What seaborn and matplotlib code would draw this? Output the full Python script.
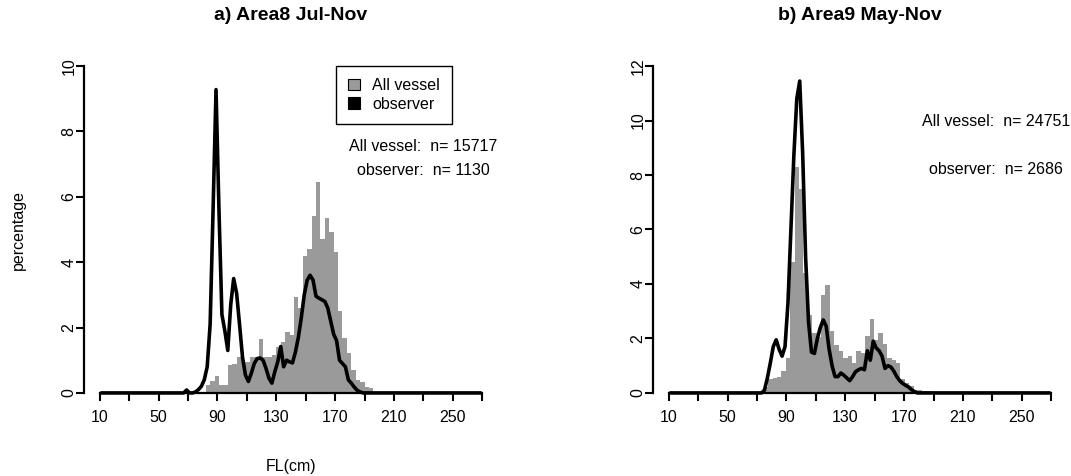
import numpy as np
import matplotlib
matplotlib.use("Agg")
import matplotlib.pyplot as plt
import seaborn as sns
from matplotlib.patches import Patch

sns.set_style("white")
plt.rcParams['font.family'] = ['Liberation Sans', 'DejaVu Sans']
plt.rcParams['text.color'] = 'black'
plt.rcParams['axes.labelcolor'] = 'black'

# ---------------- data ----------------
titles = ["a) Area8 Jul-Nov", "b) Area9 May-Nov"]
legend_labels = ["All vessel", "observer"]
n_text_a = ["All vessel:  n= 15717", "observer:  n= 1130"]
n_text_b = ["All vessel:  n= 24751", "observer:  n= 2686"]
x_ticks = list(range(10, 271, 20))
x_tick_labels = ["10", "", "50", "", "90", "", "130", "", "170", "", "210", "", "250", ""]

bin_width = 3
# All vessel percentages (3 cm bins) -- panel a, first bin edge 82 cm
hist_a_start = 82
hist_a_pct = [0.24, 0.35, 0.52, 0.25, 0.25, 0.84, 0.90, 1.10, 1.00, 0.96,
              1.10, 1.10, 1.64, 1.10, 1.10, 1.15, 1.40, 1.57, 1.87, 1.78,
              2.95, 2.60, 4.19, 4.40, 5.41, 6.45, 4.70, 5.34, 4.93, 4.30,
              2.50, 1.68, 1.22, 0.70, 0.40, 0.33, 0.18, 0.15]
# panel b, first bin edge 74.5 cm
hist_b_start = 74.5
hist_b_pct = [0.20, 0.50, 0.55, 0.60, 0.80, 1.30, 4.80, 8.30, 7.50, 4.40,
              2.87, 2.20, 2.05, 3.60, 3.97, 2.26, 1.77, 1.55, 1.28, 1.35,
              1.10, 1.55, 1.45, 2.10, 2.70, 1.95, 2.20, 1.80, 1.27, 1.20,
              1.10, 0.50, 0.37, 0.24, 0.12, 0.10, 0.07, 0.06, 0.05, 0.02,
              0.01, 0.01, 0.04]

# observer percentages at 2 cm bin mid-points (11 ... 269 cm)
obs_a_start = 61
obs_a_pct = [0, 0, 0, 0, 0.09, 0, 0, 0.03, 0.10, 0.20,
             0.40, 0.80, 2.10, 5.60, 9.28, 5.60, 2.40, 1.90, 1.30, 2.70,
             3.50, 3.05, 2.10, 1.10, 0.55, 0.35, 0.60, 0.90, 1.05, 1.07,
             1.00, 0.75, 0.45, 0.30, 0.65, 0.95, 1.42, 0.80, 1.00, 0.95,
             0.92, 1.25, 1.70, 2.30, 3.00, 3.45, 3.60, 3.45, 2.96, 2.90,
             2.85, 2.80, 2.60, 2.20, 1.80, 1.60, 1.00, 0.90, 0.80, 0.40,
             0.30, 0.18, 0.08, 0.03, 0]
obs_b_start = 71
obs_b_pct = [0, 0, 0.10, 0.55, 1.10, 1.70, 1.95, 1.60, 1.35, 1.70,
             3.30, 6.00, 8.70, 10.80, 11.45, 8.80, 5.00, 2.60, 1.50, 1.45,
             2.00, 2.40, 2.68, 2.45, 1.60, 1.00, 0.60, 0.60, 0.73, 0.65,
             0.55, 0.45, 0.60, 0.78, 0.85, 0.90, 0.85, 1.55, 1.20, 1.90,
             1.65, 1.55, 1.35, 0.90, 1.00, 0.95, 0.80, 0.60, 0.45, 0.35,
             0.28, 0.22, 0.12, 0.05, 0, 0]
y_max = [10, 12]

GREY = "#9a9a9a"
FS = 11.5

fig = plt.figure(figsize=(10.71, 4.76), dpi=100)
W, H = 1071, 476
ax_a = fig.add_axes([84 / W, 1 - 406 / H, 414 / W, 353 / H])
ax_b = fig.add_axes([653 / W, 1 - 406 / H, 414 / W, 353 / H])


def full_obs(start, pct):
    mids = np.arange(11, 270, 2)
    vals = np.zeros(len(mids))
    i0 = (start - 11) // 2
    vals[i0:i0 + len(pct)] = pct
    return mids, vals


def draw(ax, hstart, hpct, ostart, opct, ymax, ntexts, ntext_pos):
    centers = hstart + bin_width / 2 + bin_width * np.arange(len(hpct))
    sns.histplot(x=centers, weights=np.asarray(hpct), binwidth=bin_width,
                 binrange=(hstart, hstart + bin_width * len(hpct)), ax=ax,
                 element="step", fill=True, color=GREY, alpha=1, linewidth=0)
    mids, vals = full_obs(ostart, opct)
    sns.lineplot(x=mids, y=vals, ax=ax, color="black", linewidth=2.6,
                 estimator=None, sort=False)
    ax.set_xlim(-0.8, 280.8)
    ax.set_ylim(-0.04 * ymax, 1.04 * ymax)
    for s in ["top", "right"]:
        ax.spines[s].set_visible(False)
    ax.spines["left"].set_bounds(0, ymax)
    ax.spines["bottom"].set_position(("data", 0))
    ax.spines["bottom"].set_bounds(10, 270)
    for s in ["left", "bottom"]:
        ax.spines[s].set_linewidth(1.6)
        ax.spines[s].set_color("black")
        ax.spines[s].set_zorder(1)
    ax.set_xticks(x_ticks)
    ax.set_xticklabels(x_tick_labels)
    ax.set_yticks(np.arange(0, ymax + 1, 2))
    ax.set_yticklabels([str(v) for v in range(0, ymax + 1, 2)])
    ax.tick_params(axis="both", direction="out", length=5.5, width=1.5,
                   labelsize=FS, colors="black", bottom=True, left=True)
    ax.tick_params(axis="x", pad=7)
    ax.tick_params(axis="y", pad=0, labelrotation=90)
    for lab in ax.get_yticklabels():
        lab.set_va("center")
    ax.set_xlabel("")
    ax.set_ylabel("")
    ax.grid(False)
    for txt, (tx, ty) in zip(ntexts, ntext_pos):
        ax.text(tx, ty, txt, transform=ax.transAxes, ha="center", va="center",
                fontsize=FS)


draw(ax_a, hist_a_start, hist_a_pct, obs_a_start, obs_a_pct, y_max[0],
     n_text_a, [(0.819, 0.734), (0.819, 0.666)])
draw(ax_b, hist_b_start, hist_b_pct, obs_b_start, obs_b_pct, y_max[1],
     n_text_b, [(0.829, 0.807), (0.829, 0.669)])

handles = [Patch(facecolor=GREY, edgecolor="black", linewidth=0.8, label=legend_labels[0]),
           Patch(facecolor="black", edgecolor="black", linewidth=0.8, label=legend_labels[1])]
leg = ax_a.legend(handles=handles, loc="upper right", bbox_to_anchor=(0.889, 0.962),
                  frameon=True, fancybox=False, edgecolor="black", framealpha=1,
                  fontsize=FS, handlelength=0.75, handleheight=0.7,
                  borderpad=0.75, labelspacing=0.2, handletextpad=0.8,
                  borderaxespad=0)
leg.get_frame().set_linewidth(1.0)

fig.text(291 / W, 1 - 16 / H, titles[0], ha="center", va="center",
         fontsize=14, fontweight="bold")
fig.text(860 / W, 1 - 16 / H, titles[1], ha="center", va="center",
         fontsize=14, fontweight="bold")
fig.text(18 / W, 1 - 230 / H, "percentage", rotation=90, ha="center",
         va="center", fontsize=FS)
fig.text(291 / W, 1 - 466 / H, "FL(cm)", ha="center", va="center", fontsize=FS)

fig.savefig("out.png", dpi=100)
